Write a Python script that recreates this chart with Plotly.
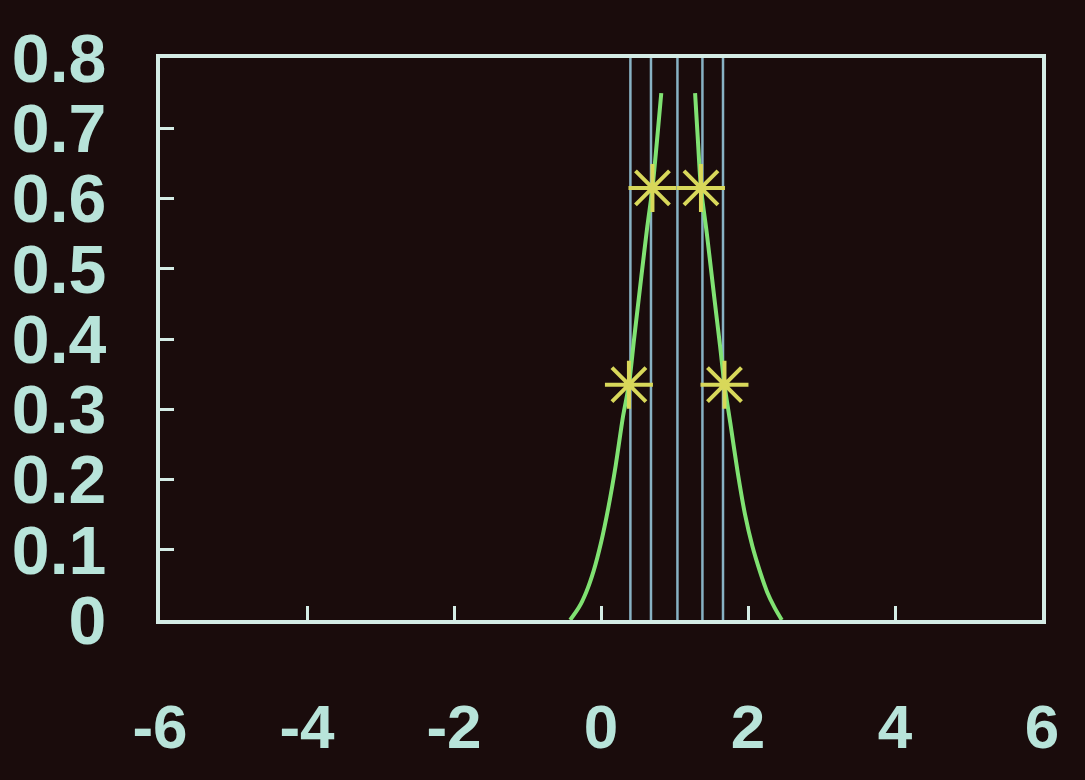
import plotly.graph_objects as go

# Curve: left branch and right branch
left_x = [-0.42, -0.30, -0.20, -0.10, 0.00, 0.10, 0.20, 0.30, 0.38, 0.45, 0.55, 0.63, 0.70, 0.76, 0.82]
left_y = [0.00, 0.018, 0.04, 0.07, 0.11, 0.16, 0.22, 0.29, 0.335, 0.40, 0.49, 0.56, 0.615, 0.68, 0.75]
right_x = [1.28, 1.32, 1.36, 1.44, 1.54, 1.62, 1.68, 1.76, 1.86, 1.96, 2.06, 2.16, 2.26, 2.36, 2.46]
right_y = [0.75, 0.68, 0.615, 0.55, 0.46, 0.39, 0.335, 0.28, 0.21, 0.15, 0.105, 0.07, 0.04, 0.018, 0.00]

# Star markers
star_x = [0.38, 0.70, 1.36, 1.68]
star_y = [0.335, 0.615, 0.615, 0.335]

# Vertical reference lines
vline_x = [0.40, 0.68, 1.04, 1.38, 1.66]
vline_y = [0.0, 0.8]

x_ticks = [-6, -4, -2, 0, 2, 4, 6]
y_ticks = [0, 0.1, 0.2, 0.3, 0.4, 0.5, 0.6, 0.7, 0.8]
y_labels = ["0", "0.1", "0.2", "0.3", "0.4", "0.5", "0.6", "0.7", "0.8"]

axis_col = "#d4ece6"
label_col = "#b8e4da"
vline_col = "#88b2c4"
curve_col = "#80e272"
star_col = "#d8d85a"
bg = "#1a0c0c"
font_fam = "Liberation Sans, Arial, sans-serif"

fig = go.Figure()
for vx in vline_x:
    fig.add_trace(go.Scatter(x=[vx, vx], y=vline_y, mode="lines",
                             line=dict(color=vline_col, width=2.5),
                             showlegend=False, hoverinfo="skip"))
for bx, by in ((left_x, left_y), (right_x, right_y)):
    fig.add_trace(go.Scatter(x=bx, y=by, mode="lines",
                             line=dict(color=curve_col, width=4, shape="spline", smoothing=0.8),
                             showlegend=False))
fig.add_trace(go.Scatter(x=star_x, y=star_y, mode="markers",
                         marker=dict(symbol="asterisk-open", size=40,
                                     line=dict(color=star_col, width=4),
                                     color=star_col),
                         showlegend=False))

fig.update_layout(
    width=1085, height=780,
    paper_bgcolor=bg, plot_bgcolor=bg,
    margin=dict(l=158, r=43, t=58, b=160),
    font=dict(family=font_fam, color=label_col),
)
fig.update_xaxes(range=[-6, 6], tickvals=x_ticks, ticktext=[str(v) for v in x_ticks],
                 showgrid=False, zeroline=False, showline=True, mirror=True,
                 linecolor=axis_col, linewidth=4,
                 ticks="inside", ticklen=14, tickwidth=3, tickcolor=axis_col,
                 tickfont=dict(size=62, color=label_col, family=font_fam, weight="bold"),
                 ticklabelstandoff=50)
fig.update_yaxes(range=[0, 0.8], tickvals=y_ticks, ticktext=y_labels,
                 showgrid=False, zeroline=False, showline=True, mirror=True,
                 linecolor=axis_col, linewidth=4,
                 ticks="inside", ticklen=14, tickwidth=3, tickcolor=axis_col,
                 tickfont=dict(size=68, color=label_col, family=font_fam, weight="bold"),
                 ticklabelstandoff=36)

fig.write_html("out.html", config={"displayModeBar": False},
               post_script="document.body.style.margin='0';")
